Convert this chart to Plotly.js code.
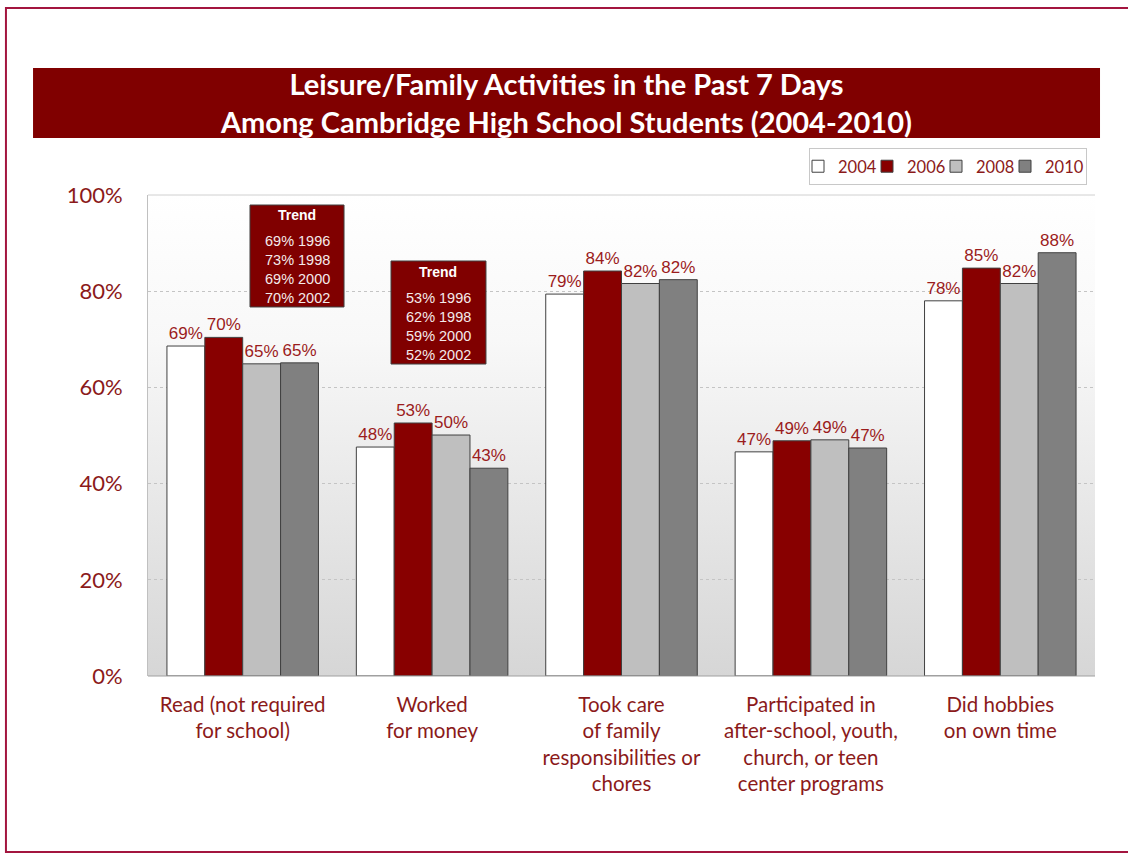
<!DOCTYPE html>
<html>
<head>
<meta charset="utf-8">
<script src="https://cdn.plot.ly/plotly-3.0.1.min.js"></script>
<style>html,body{margin:0;padding:0;background:#fff;}#chart{width:1128px;height:855px;}</style>
</head>
<body>
<div id="chart"></div>
<script>
// ---- data ----
var categories = [
  "Read (not required<br>for school)",
  "Worked<br>for money",
  "Took care<br>of family<br>responsibilities or<br>chores",
  "Participated in<br>after-school, youth,<br>church, or teen<br>center programs",
  "Did hobbies<br>on own time"
];
var years = ["2004", "2006", "2008", "2010"];
var values2004 = [68.6, 47.6, 79.4, 46.6, 78.0];
var values2006 = [70.4, 52.6, 84.2, 48.9, 84.8];
var values2008 = [64.9, 50.1, 81.6, 49.1, 81.6];
var values2010 = [65.1, 43.2, 82.4, 47.4, 88.0];
var trendRead = ["69% 1996", "73% 1998", "69% 2000", "70% 2002"];
var trendWorked = ["53% 1996", "62% 1998", "59% 2000", "52% 2002"];
var yTicks = [0, 20, 40, 60, 80, 100];
var yTickLabels = ["0%", "20%", "40%", "60%", "80%", "100%"];

// ---- styling ----
var seriesColors = ["#ffffff", "#880000", "#bfbfbf", "#808080"];
var allValues = [values2004, values2006, values2008, values2010];
var red = "#8b1a1a";
var textFont = "Lato, 'Open Sans', sans-serif";
var arial = "'Liberation Sans', Arial, sans-serif";

var traces = years.map(function (yr, i) {
  return {
    type: "bar",
    name: yr,
    x: categories,
    y: allValues[i],
    marker: { color: seriesColors[i], line: { color: "#404040", width: 1 } },
    texttemplate: "%{y:.0f}%",
    textposition: "outside",
    textfont: { family: arial, size: 17, color: "#9b1c1c" },
    constraintext: "none",
    cliponaxis: false,
    hoverinfo: "skip"
  };
});

var gradSvg = '<svg xmlns="http://www.w3.org/2000/svg" width="100" height="100" preserveAspectRatio="none">' +
  '<defs><linearGradient id="g" x1="0" y1="0" x2="0" y2="1">' +
  '<stop offset="0" stop-color="#ffffff"/><stop offset="0.3" stop-color="#f8f8f8"/><stop offset="1" stop-color="#d6d6d6"/>' +
  '</linearGradient></defs><rect width="100" height="100" fill="url(#g)"/></svg>';
var gradUri = "data:image/svg+xml;charset=utf-8," + encodeURIComponent(gradSvg);

// trend boxes: [x0, x1, y0, y1, headerY, linesY] in paper fractions
var boxes = [
  { x0: 0.1077, x1: 0.2070, y0: 0.7672, y1: 0.9792, hy: 0.9584, ly: 0.845, lines: trendRead },
  { x0: 0.2566, x1: 0.3569, y0: 0.6486, y1: 0.8628, hy: 0.8399, ly: 0.7266, lines: trendWorked }
];

var shapes = [
  { type: "rect", xref: "paper", yref: "paper", x0: -0.1214, x1: 1.0053, y0: 1.1185, y1: 1.264,
    fillcolor: "#800000", line: { width: 0 }, layer: "below" },
  { type: "rect", xref: "paper", yref: "paper", x0: -0.15, x1: 1.05, y0: -0.3659, y1: 1.3888,
    fillcolor: "rgba(0,0,0,0)", line: { color: "#a3153f", width: 2 }, layer: "above" },
  { type: "line", xref: "paper", yref: "paper", x0: 0, x1: 1, y0: 1, y1: 1,
    line: { color: "#d0d0d0", width: 1 } },
  { type: "line", xref: "paper", yref: "paper", x0: 0, x1: 1, y0: 0, y1: 0,
    line: { color: "#a0a0a0", width: 1 } }
];
var annotations = [];
boxes.forEach(function (b) {
  shapes.push({ type: "rect", xref: "paper", yref: "paper", x0: b.x0, x1: b.x1, y0: b.y0, y1: b.y1,
    fillcolor: "#800000", line: { color: "#404040", width: 1 }, layer: "above" });
  var cx = (b.x0 + b.x1) / 2;
  annotations.push({ xref: "paper", yref: "paper", x: cx, y: b.hy, xanchor: "center", yanchor: "middle",
    text: "<b>Trend</b>", showarrow: false, font: { family: arial, size: 14, color: "#ffffff" } });
  annotations.push({ xref: "paper", yref: "paper", x: cx, y: b.ly, xanchor: "center", yanchor: "middle",
    text: b.lines.join("<br>"), showarrow: false, align: "center",
    font: { family: arial, size: 14.5, color: "#f4eaea" } });
});

var layout = {
  width: 1128,
  height: 855,
  margin: { l: 148, r: 33, t: 195, b: 179, autoexpand: false },
  paper_bgcolor: "#ffffff",
  plot_bgcolor: "rgba(0,0,0,0)",
  barmode: "group",
  bargap: 0.2,
  bargroupgap: 0,
  showlegend: true,
  title: {
    text: "<b>Leisure/Family Activities in the Past 7 Days</b><br><b>Among Cambridge High School Students (2004-2010)</b>",
    font: { family: textFont, size: 29, color: "#ffffff" },
    xref: "paper", x: 0.4419, xanchor: "center",
    yref: "container", y: 0.889, yanchor: "middle"
  },
  legend: {
    orientation: "h",
    x: 0.698, xanchor: "left",
    y: 1.0977, yanchor: "top",
    bordercolor: "#c8c8c8", borderwidth: 1,
    bgcolor: "#ffffff",
    font: { family: textFont, size: 16.5, color: red },
    itemwidth: 30,
    entrywidth: 36,
    indentation: -12,
    traceorder: "normal"
  },
  xaxis: {
    tickfont: { family: textFont, size: 20.5, color: red },
    showline: false,
    ticks: "",
    ticklabelstandoff: 14,
    fixedrange: true
  },
  yaxis: {
    range: [0, 100],
    tickvals: yTicks,
    ticktext: yTickLabels,
    tickfont: { family: textFont, size: 22, color: red },
    showgrid: true,
    gridcolor: "#c4c4c4",
    griddash: "dot",
    gridwidth: 1,
    zeroline: false,
    showline: true,
    linecolor: "#c0c0c0",
    ticks: "",
    ticklabelstandoff: 20,
    fixedrange: true
  },
  images: [{
    source: gradUri, xref: "paper", yref: "paper",
    x: 0, y: 1, sizex: 1, sizey: 1, sizing: "stretch",
    xanchor: "left", yanchor: "top", layer: "below"
  }],
  shapes: shapes,
  annotations: annotations
};

Plotly.newPlot("chart", traces, layout, { displayModeBar: false, staticPlot: true });
</script>
</body>
</html>
